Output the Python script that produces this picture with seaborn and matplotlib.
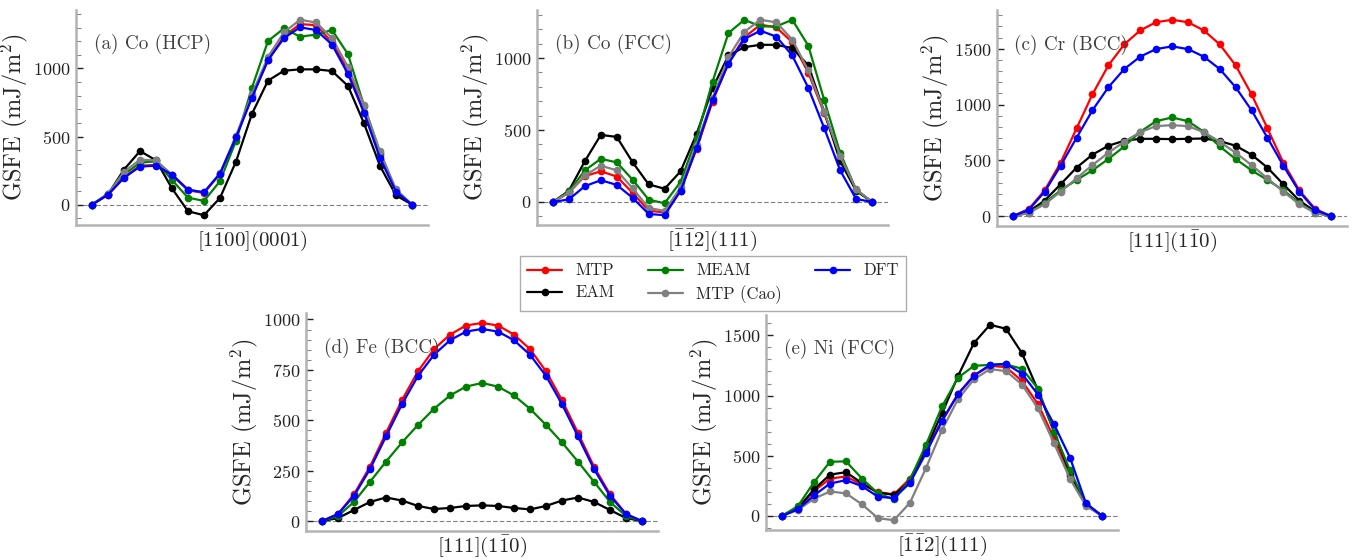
import numpy as np
import pandas as pd
import matplotlib
matplotlib.use("Agg")
import matplotlib.pyplot as plt
from matplotlib.ticker import MultipleLocator, AutoMinorLocator
import seaborn as sns

# ---------------- data ----------------
methods = ["MTP", "EAM", "MEAM", "MTP (Cao)", "DFT"]
colors = {"MTP": "#ff0000", "EAM": "#000000", "MEAM": "#008000",
          "MTP (Cao)": "#808080", "DFT": "#0000ff"}
displacement = [0.0, 0.05, 0.1, 0.15, 0.2, 0.25, 0.3, 0.35, 0.4, 0.45, 0.5,
                0.55, 0.6, 0.65, 0.7, 0.75, 0.8, 0.85, 0.9, 0.95, 1.0]

a_mtp = [0, 72, 200, 285, 292, 215, 105, 85, 225, 495, 795, 1060, 1235, 1325, 1318, 1192, 985, 682, 366, 100, 0]
a_eam = [0, 75, 257, 393, 325, 119, -49, -78, 49, 316, 667, 910, 983, 993, 993, 981, 871, 597, 284, 68, 0]
a_meam = [0, 80, 220, 308, 318, 180, 51, 27, 172, 468, 859, 1201, 1294, 1233, 1248, 1282, 1104, 726, 379, 100, 0]
a_cao = [0, 78, 240, 330, 325, 220, 110, 90, 230, 505, 810, 1085, 1265, 1357, 1337, 1223, 1010, 730, 390, 112, 0]
a_dft = [0, 73, 197, 279, 286, 221, 109, 90, 228, 493, 786, 1061, 1223, 1301, 1282, 1175, 959, 675, 342, 95, 0]

b_mtp = [0, 65, 180, 213, 177, 62, -60, -73, 78, 369, 697, 966, 1144, 1232, 1213, 1110, 899, 617, 319, 85, 0]
b_eam = [0, 78, 284, 466, 452, 275, 122, 92, 213, 472, 789, 1018, 1076, 1092, 1092, 1069, 950, 628, 284, 78, 0]
b_meam = [0, 73, 220, 300, 275, 154, 16, -9, 140, 445, 835, 1174, 1266, 1220, 1220, 1266, 1087, 709, 342, 85, 0]
b_cao = [0, 65, 185, 252, 220, 94, -41, -62, 101, 399, 720, 1007, 1183, 1266, 1248, 1128, 915, 628, 319, 89, 0]
b_dft = [0, 18, 110, 151, 119, 28, -83, -92, 78, 376, 709, 961, 1133, 1190, 1149, 1018, 794, 514, 220, 21, 0]

c_mtp = [0, 65, 232, 479, 786, 1092, 1351, 1539, 1664, 1738, 1759, 1738, 1664, 1539, 1351, 1092, 786, 479, 232, 65, 0]
c_eam = [0, 42, 140, 286, 435, 551, 631, 676, 693, 693, 690, 693, 696, 673, 631, 551, 435, 286, 140, 42, 0]
c_meam = [0, 30, 119, 232, 324, 411, 512, 625, 756, 851, 884, 851, 756, 625, 512, 411, 324, 232, 119, 30, 0]
c_cao = [0, 30, 107, 220, 339, 458, 568, 667, 753, 807, 815, 807, 753, 667, 568, 458, 339, 220, 107, 30, 0]
c_dft = [0, 57, 220, 452, 702, 949, 1155, 1318, 1429, 1497, 1521, 1497, 1429, 1318, 1155, 949, 702, 452, 220, 57, 0]

d_mtp = [0, 35, 133, 270, 437, 600, 743, 853, 925, 970, 983, 970, 925, 853, 743, 600, 437, 270, 133, 35, 0]
d_eam = [0, 15, 55, 95, 117, 102, 75, 60, 65, 75, 78, 75, 65, 58, 75, 102, 117, 95, 55, 15, 0]
d_meam = [0, 25, 95, 195, 295, 390, 477, 557, 623, 667, 685, 667, 623, 557, 477, 390, 295, 195, 95, 25, 0]
d_dft = [0, 35, 125, 258, 420, 580, 720, 825, 897, 940, 953, 940, 897, 825, 720, 580, 420, 258, 125, 35, 0]

e_mtp = [0, 60, 206, 310, 327, 261, 198, 179, 310, 549, 791, 1014, 1168, 1247, 1236, 1121, 929, 646, 330, 90, 0]
e_eam = [0, 65, 220, 343, 363, 272, 192, 176, 288, 563, 852, 1162, 1437, 1588, 1555, 1352, 1044, 700, 352, 102, 0]
e_meam = [0, 82, 280, 450, 453, 310, 187, 137, 302, 591, 909, 1148, 1247, 1255, 1258, 1223, 1058, 700, 379, 100, 0]
e_cao = [0, 50, 143, 203, 187, 96, -19, -36, 110, 398, 714, 970, 1135, 1220, 1203, 1091, 893, 604, 308, 82, 0]
e_dft = [0, 55, 170, 269, 297, 247, 159, 148, 275, 522, 788, 1011, 1165, 1255, 1264, 1181, 1008, 761, 484, 104, 0]

panel_titles = ["(a) Co (HCP)", "(b) Co (FCC)", "(c) Cr (BCC)", "(d) Fe (BCC)", "(e) Ni (FCC)"]
panel_xlabels = [r"$[1\bar{1}00](0001)$", r"$[\bar{1}\bar{1}2](111)$", r"$[111](1\bar{1}0)$",
                 r"$[111](1\bar{1}0)$", r"$[\bar{1}\bar{1}2](111)$"]
panel_series = [
    {"MTP": a_mtp, "EAM": a_eam, "MEAM": a_meam, "MTP (Cao)": a_cao, "DFT": a_dft},
    {"MTP": b_mtp, "EAM": b_eam, "MEAM": b_meam, "MTP (Cao)": b_cao, "DFT": b_dft},
    {"MTP": c_mtp, "EAM": c_eam, "MEAM": c_meam, "MTP (Cao)": c_cao, "DFT": c_dft},
    {"MTP": d_mtp, "EAM": d_eam, "MEAM": d_meam, "DFT": d_dft},
    {"MTP": e_mtp, "EAM": e_eam, "MEAM": e_meam, "MTP (Cao)": e_cao, "DFT": e_dft},
]

# ---------------- style ----------------
sns.set_style("ticks")
plt.rcParams["font.family"] = ["cmr10", "DejaVu Serif"]
plt.rcParams["mathtext.fontset"] = "cm"
plt.rcParams["axes.formatter.use_mathtext"] = True
plt.rcParams["axes.unicode_minus"] = False

W, H = 1354, 560
fig = plt.figure(figsize=(W / 100, H / 100), dpi=100)

# pixel boxes: left, right, top, bottom
boxes = [(76, 428, 10, 225), (537, 888, 10, 225), (997, 1347, 10, 226),
         (306, 658, 313, 531), (766, 1118, 315, 530)]
major_steps = [500, 500, 500, 250, 500]
spine_col = "#b3b3b3"

axes = []
for i, (l, r, t, b) in enumerate(boxes):
    ax = fig.add_axes([l / W, 1 - b / H, (r - l) / W, (b - t) / H])
    axes.append(ax)
    ser = panel_series[i]
    rows = []
    for m in methods:
        if m in ser:
            for xv, yv in zip(displacement, ser[m]):
                rows.append({"x": xv, "y": yv, "method": m})
    df = pd.DataFrame(rows)
    order = [m for m in methods if m in ser]
    ax.axhline(0, color="#808080", lw=0.8, ls=(0, (4, 2)), zorder=0)
    sns.lineplot(data=df, x="x", y="y", hue="method", hue_order=order,
                 palette=colors, marker="o", markersize=5.5, markeredgewidth=0,
                 linewidth=1.6, ax=ax, legend=False, sort=False)
    ax.set_xlabel(panel_xlabels[i], fontsize=15, labelpad=2)
    ax.set_ylabel(r"GSFE (mJ/m$^2$)", fontsize=17.5, labelpad=2)
    ax.set_xticks([])
    ax.yaxis.set_major_locator(MultipleLocator(major_steps[i]))
    ax.yaxis.set_minor_locator(AutoMinorLocator())
    ax.tick_params(axis="y", which="major", direction="in", length=5, width=1,
                   color="#222222", labelsize=13, labelcolor="#222222", pad=4)
    ax.tick_params(axis="y", which="minor", direction="in", length=3.5, width=0.8,
                   color="#888888")
    sns.despine(ax=ax)
    for s in ["left", "bottom"]:
        ax.spines[s].set_color(spine_col)
        ax.spines[s].set_linewidth(1.8)
    ax.text(0.05, 0.84, panel_titles[i], transform=ax.transAxes, fontsize=13.8,
            color="#404040", va="center", ha="left")

handles = axes[0].lines[1:]
fig.legend(handles, methods, loc="center", bbox_to_anchor=(713 / W, 1 - 283.5 / H),
           ncol=3, fontsize=12, frameon=True, fancybox=False, edgecolor="#999999",
           handlelength=2.1, columnspacing=2.0, borderpad=0.45, labelspacing=0.4)

fig.savefig("out.png", dpi=100)
